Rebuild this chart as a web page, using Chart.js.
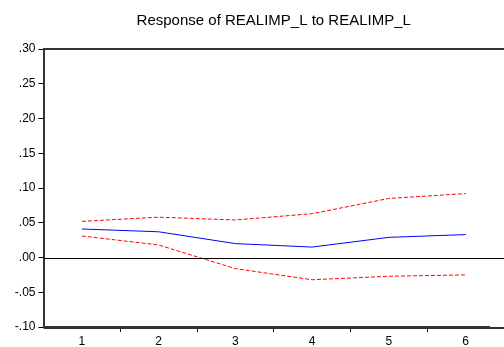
<!DOCTYPE html>
<html>
<head>
<meta charset="utf-8">
<script src="https://cdn.jsdelivr.net/npm/chart.js@4/dist/chart.umd.min.js"></script>
<style>
  html, body { margin: 0; padding: 0; background: #fff; overflow: hidden; }
  #irf { display: block; }
</style>
</head>
<body>
<canvas id="irf" width="504" height="347"></canvas>
<script>
const PERIODS = ['1', '2', '3', '4', '5', '6'];
const RESPONSE = [0.041, 0.037, 0.020, 0.015, 0.029, 0.033];
const UPPER    = [0.052, 0.058, 0.054, 0.063, 0.085, 0.092];
const LOWER    = [0.031, 0.018, -0.016, -0.032, -0.027, -0.025];
const Y_MIN = -0.10, Y_MAX = 0.30, Y_STEP = 0.05;

Chart.defaults.font.family = "'Liberation Sans', Arial, sans-serif";
Chart.defaults.color = '#000';

// top frame + zero line, EViews style (right edge is cut off in the original)
const frame = {
  id: 'frame',
  afterDatasetsDraw(chart) {
    const { ctx, chartArea: a, scales: { y } } = chart;
    ctx.save();
    ctx.strokeStyle = '#000';
    ctx.lineWidth = 1;
    const y0 = Math.round(y.getPixelForValue(0)) + 0.5;
    ctx.beginPath(); ctx.moveTo(a.left, y0); ctx.lineTo(a.right, y0); ctx.stroke();
    ctx.restore();
  },
  afterDraw(chart) {
    // the original is cropped just before its right frame edge
    const { ctx, chartArea: a, scales: { y } } = chart;
    const y0 = Math.round(y.getPixelForValue(0)) + 0.5;
    const w = chart.width;
    ctx.save();
    ctx.fillStyle = '#fff';
    ctx.fillRect(w - 14, a.top - 2, 14, a.bottom - a.top + 4);
    ctx.strokeStyle = '#000';
    ctx.lineWidth = 1;
    ctx.beginPath(); ctx.moveTo(w - 16, y0); ctx.lineTo(w, y0); ctx.stroke();
    ctx.strokeStyle = '#333';
    ctx.lineWidth = 2;
    ctx.beginPath(); ctx.moveTo(a.left, a.top); ctx.lineTo(w, a.top); ctx.stroke();
    ctx.beginPath(); ctx.moveTo(a.left, a.bottom + 1); ctx.lineTo(w, a.bottom + 1); ctx.stroke();
    ctx.restore();
  }
};

const fmt = v => {
  const s = Math.abs(v).toFixed(2).replace(/^0/, '');
  return (v < -1e-9 ? '-' : '') + s;
};

// only the tick marks between periods, not at the two edges
const xTickColor = c => (c.index === 0 || c.index >= PERIODS.length) ? 'rgba(0,0,0,0)' : '#000';

new Chart(document.getElementById('irf'), {
  type: 'line',
  data: {
    labels: PERIODS,
    datasets: [
      { data: UPPER, borderColor: '#ff0000', borderWidth: 1, borderDash: [4, 2], pointRadius: 0, tension: 0 },
      { data: RESPONSE, borderColor: '#0000ff', borderWidth: 1, pointRadius: 0, tension: 0 },
      { data: LOWER, borderColor: '#ff0000', borderWidth: 1, borderDash: [4, 2], pointRadius: 0, tension: 0 },
    ],
  },
  options: {
    responsive: false, animation: false,
    layout: { padding: { left: 0, right: 0, top: 0, bottom: 0 } },
    plugins: {
      legend: { display: false },
      tooltip: { enabled: false },
      title: {
        display: true,
        fullSize: false,
        text: 'Response of REALIMP_L to REALIMP_L',
        font: { size: 15, weight: 'normal' },
        color: '#000',
        padding: { top: 11.8, bottom: 19.2 },
      },
    },
    scales: {
      x: {
        offset: true,
        grid: { offset: true, drawOnChartArea: false, tickLength: 5, color: xTickColor },
        border: { color: '#333', width: 2 },
        ticks: { font: { size: 12 }, color: '#000', padding: 2 },
        afterFit: s => { s.height = 20; },
      },
      y: {
        min: Y_MIN, max: Y_MAX,
        grid: { drawOnChartArea: false, tickLength: 5, color: '#000' },
        border: { color: '#333', width: 2 },
        ticks: { stepSize: Y_STEP, font: { size: 12 }, color: '#000', padding: 3, callback: fmt },
        afterFit: s => { s.width = 43.5; },
      },
    },
  },
  plugins: [frame],
});
</script>
</body>
</html>
